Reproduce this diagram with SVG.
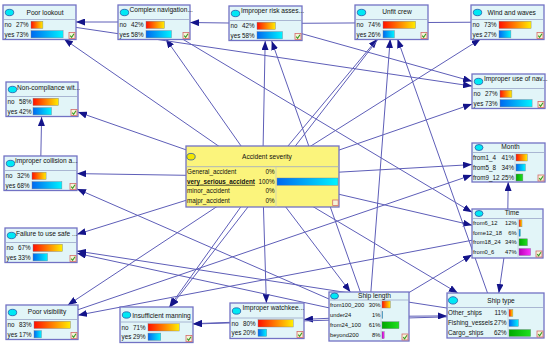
<svg xmlns="http://www.w3.org/2000/svg" width="550" height="347" viewBox="0 0 550 347">
<style>
.box{fill:#e2f5f8;stroke:#7272c4;stroke-width:1.3}
.asb{fill:#fbf47c;stroke:#7272c4;stroke-width:1.3}
.div{stroke:#9aa6c8;stroke-width:0.8}
.sep{stroke:#b8c4d4;stroke-width:0.6}
.dot{fill:#00e8f4;stroke:#2a58a8;stroke-width:0.8}
.doty{fill:#f2e600;stroke:#2a58a8;stroke-width:0.8}
text{font-family:"Liberation Sans",Arial,sans-serif;fill:#111}
.t{font-size:6.6px}
.r{font-size:6.3px}
.s{font-size:5.8px}
.p{text-anchor:end}
.m{text-anchor:middle}
.bar{stroke:#7a7a90;stroke-width:0.4}
.ry{fill:url(#gRY)}
.bc{fill:url(#gBC)}
.gr{fill:url(#gGR)}
.mg{fill:url(#gMG)}
.chk{fill:#f4f4d8;stroke:#d46a6a;stroke-width:0.8}
.tick{fill:none;stroke:#3a9a20;stroke-width:1.1}
.lk line{stroke:#5e5eb8;stroke-width:1;fill:none}
</style>
<defs>
<linearGradient id="gRY"><stop offset="0" stop-color="#ff1000"/><stop offset="1" stop-color="#ffee00"/></linearGradient>
<linearGradient id="gBC"><stop offset="0" stop-color="#0068f0"/><stop offset="1" stop-color="#00f4ff"/></linearGradient>
<linearGradient id="gGR"><stop offset="0" stop-color="#00a800"/><stop offset="1" stop-color="#20e020"/></linearGradient>
<linearGradient id="gMG"><stop offset="0" stop-color="#b800b8"/><stop offset="1" stop-color="#ff30ff"/></linearGradient>
<marker id="ah" markerUnits="userSpaceOnUse" markerWidth="9" markerHeight="7" refX="9" refY="3.5" orient="auto"><path d="M0,0 L9,3.5 L0,7 z" fill="#14148a"/></marker>
<g id="ck"><rect class="chk" x="0" y="0" width="6" height="6"/><path class="tick" d="M1.2,3.2 L2.6,4.8 L5,1.2"/></g>
</defs>

<g id="connectors" class="lk">
<line x1="265.5" y1="23.5" x2="507.5" y2="22"/>
<line x1="262.5" y1="176.5" x2="64" y2="39" marker-end="url(#ah)"/>
<line x1="262.5" y1="176.5" x2="165.9" y2="39" marker-end="url(#ah)"/>
<line x1="262.5" y1="176.5" x2="265.2" y2="41" marker-end="url(#ah)"/>
<line x1="262.5" y1="176.5" x2="377.3" y2="39" marker-end="url(#ah)"/>
<line x1="262.5" y1="176.5" x2="480.6" y2="39" marker-end="url(#ah)"/>
<line x1="262.5" y1="176.5" x2="472" y2="104.1" marker-end="url(#ah)"/>
<line x1="262.5" y1="176.5" x2="78" y2="112.1" marker-end="url(#ah)"/>
<line x1="262.5" y1="176.5" x2="77" y2="173.6" marker-end="url(#ah)"/>
<line x1="262.5" y1="176.5" x2="472" y2="164.6" marker-end="url(#ah)"/>
<line x1="262.5" y1="176.5" x2="472" y2="225.2" marker-end="url(#ah)"/>
<line x1="262.5" y1="176.5" x2="77" y2="234.3" marker-end="url(#ah)"/>
<line x1="262.5" y1="176.5" x2="67.8" y2="305" marker-end="url(#ah)"/>
<line x1="262.5" y1="176.5" x2="169.3" y2="307" marker-end="url(#ah)"/>
<line x1="262.5" y1="176.5" x2="266.4" y2="303" marker-end="url(#ah)"/>
<line x1="262.5" y1="176.5" x2="350.4" y2="292" marker-end="url(#ah)"/>
<line x1="262.5" y1="176.5" x2="457.8" y2="293" marker-end="url(#ah)"/>
<line x1="154" y1="22" x2="76" y2="22" marker-end="url(#ah)"/>
<line x1="265.5" y1="23.5" x2="190" y2="22.5" marker-end="url(#ah)"/>
<line x1="39.5" y1="22" x2="472" y2="86.1" marker-end="url(#ah)"/>
<line x1="265.5" y1="23.5" x2="472" y2="81.3" marker-end="url(#ah)"/>
<line x1="40.5" y1="173" x2="41.6" y2="117" marker-end="url(#ah)"/>
<line x1="507.5" y1="233.5" x2="508.2" y2="182" marker-end="url(#ah)"/>
<line x1="42" y1="322" x2="472" y2="175" marker-end="url(#ah)"/>
<line x1="154" y1="22" x2="472" y2="212.3" marker-end="url(#ah)"/>
<line x1="369" y1="316.5" x2="472" y2="254.8" marker-end="url(#ah)"/>
<line x1="507.5" y1="233.5" x2="78" y2="315.2" marker-end="url(#ah)"/>
<line x1="369" y1="316.5" x2="271.7" y2="41" marker-end="url(#ah)"/>
<line x1="369" y1="316.5" x2="390.2" y2="39" marker-end="url(#ah)"/>
<line x1="495.5" y1="315.5" x2="397.5" y2="39" marker-end="url(#ah)"/>
<line x1="391.5" y1="22" x2="170.4" y2="307" marker-end="url(#ah)"/>
<line x1="369" y1="316.5" x2="304" y2="319.4" marker-end="url(#ah)"/>
<line x1="267" y1="321" x2="193" y2="323.7" marker-end="url(#ah)"/>
<line x1="495.5" y1="315.5" x2="193" y2="324" marker-end="url(#ah)"/>
<line x1="369" y1="316.5" x2="447" y2="315.9" marker-end="url(#ah)"/>
<line x1="507.5" y1="233.5" x2="498.8" y2="293" marker-end="url(#ah)"/>
<line x1="369" y1="316.5" x2="77" y2="188.9" marker-end="url(#ah)"/>
<line x1="495.5" y1="315.5" x2="77" y2="251" marker-end="url(#ah)"/>
<line x1="369" y1="316.5" x2="77" y2="253.3" marker-end="url(#ah)"/>
</g>

<g id="poor-lookout" transform="translate(3,5)">
<rect class="box" width="73" height="34.5"/><line class="div" x1="0" y1="14.5" x2="73" y2="14.5"/>
<ellipse class="dot" cx="6.5" cy="7.5" rx="4.2" ry="3.2"/>
<text class="t m" x="42" y="9.8">Poor lookout</text>
<text class="r" x="1.5" y="22.3">no</text><text class="r p" x="25.5" y="22.3">27%</text><rect class="bar ry" x="28" y="16.2" width="11.9" height="7.3"/>
<text class="r" x="1.5" y="31.7">yes</text><text class="r p" x="25.5" y="31.7">73%</text><rect class="bar bc" x="28" y="25.6" width="32.1" height="7.3"/>
<use href="#ck" x="66" y="27.5"/>
</g>

<g id="complex-navigation" transform="translate(118,5)">
<rect class="box" width="72" height="34.5"/><line class="div" x1="0" y1="14.5" x2="72" y2="14.5"/>
<ellipse class="dot" cx="6.5" cy="7.5" rx="4.2" ry="3.2"/>
<text class="t" x="11.5" y="6.5">Complex navigation...</text>
<text class="r" x="1.5" y="22.3">no</text><text class="r p" x="25.5" y="22.3">42%</text><rect class="bar ry" x="28" y="16.2" width="18.5" height="7.3"/>
<text class="r" x="1.5" y="31.7">yes</text><text class="r p" x="25.5" y="31.7">58%</text><rect class="bar bc" x="28" y="25.6" width="25.5" height="7.3"/>
<use href="#ck" x="65" y="27.5"/>
</g>

<g id="improper-risk" transform="translate(229,6)">
<rect class="box" width="73" height="34.5"/><line class="div" x1="0" y1="14.5" x2="73" y2="14.5"/>
<ellipse class="dot" cx="6.5" cy="7.5" rx="4.2" ry="3.2"/>
<text class="t" x="12" y="7">Improper risk asses...</text>
<text class="r" x="1.5" y="22.3">no</text><text class="r p" x="25.5" y="22.3">42%</text><rect class="bar ry" x="28" y="16.2" width="18.5" height="7.3"/>
<text class="r" x="1.5" y="31.7">yes</text><text class="r p" x="25.5" y="31.7">58%</text><rect class="bar bc" x="28" y="25.6" width="25.5" height="7.3"/>
<use href="#ck" x="66" y="27.5"/>
</g>

<g id="unfit-crew" transform="translate(355,5)">
<rect class="box" width="73" height="34.5"/><line class="div" x1="0" y1="14.5" x2="73" y2="14.5"/>
<ellipse class="dot" cx="6.5" cy="7.5" rx="4.2" ry="3.2"/>
<text class="t m" x="42" y="9.2">Unfit crew</text>
<text class="r" x="1.5" y="22.3">no</text><text class="r p" x="25.5" y="22.3">74%</text><rect class="bar ry" x="28" y="16.2" width="32.6" height="7.3"/>
<text class="r" x="1.5" y="31.7">yes</text><text class="r p" x="25.5" y="31.7">26%</text><rect class="bar bc" x="28" y="25.6" width="11.4" height="7.3"/>
<use href="#ck" x="66" y="27.5"/>
</g>

<g id="wind-waves" transform="translate(471,5)">
<rect class="box" width="73" height="34.5"/><line class="div" x1="0" y1="14.5" x2="73" y2="14.5"/>
<ellipse class="dot" cx="6.5" cy="7.5" rx="4.2" ry="3.2"/>
<text class="t m" x="40.7" y="9.6">Wind and waves</text>
<text class="r" x="1.5" y="22.3">no</text><text class="r p" x="25.5" y="22.3">73%</text><rect class="bar ry" x="28" y="16.2" width="32.1" height="7.3"/>
<text class="r" x="1.5" y="31.7">yes</text><text class="r p" x="25.5" y="31.7">27%</text><rect class="bar bc" x="28" y="25.6" width="11.9" height="7.3"/>
<use href="#ck" x="66" y="27.5"/>
</g>

<g id="improper-use-nav" transform="translate(472,74)">
<rect class="box" width="73" height="34.5"/><line class="div" x1="0" y1="14.5" x2="73" y2="14.5"/>
<ellipse class="dot" cx="6.5" cy="7.5" rx="4.2" ry="3.2"/>
<text class="t" x="12" y="7.3">Improper use of nav...</text>
<text class="r" x="1.5" y="22.3">no</text><text class="r p" x="25.5" y="22.3">27%</text><rect class="bar ry" x="28" y="16.2" width="11.9" height="7.3"/>
<text class="r" x="1.5" y="31.7">yes</text><text class="r p" x="25.5" y="31.7">73%</text><rect class="bar bc" x="28" y="25.6" width="32.1" height="7.3"/>
<use href="#ck" x="66" y="27.5"/>
</g>

<g id="non-compliance" transform="translate(6,82)">
<rect class="box" width="72" height="34.5"/><line class="div" x1="0" y1="14.5" x2="72" y2="14.5"/>
<ellipse class="dot" cx="6.5" cy="7.5" rx="4.2" ry="3.2"/>
<text class="t" x="11" y="7.6">Non-compliance wit...</text>
<text class="r" x="1.5" y="22.3">no</text><text class="r p" x="25.5" y="22.3">58%</text><rect class="bar ry" x="27" y="16.2" width="25.5" height="7.3"/>
<text class="r" x="1.5" y="31.7">yes</text><text class="r p" x="25.5" y="31.7">42%</text><rect class="bar bc" x="27" y="25.6" width="18.5" height="7.3"/>
<use href="#ck" x="65" y="27.5"/>
</g>

<g id="improper-collision" transform="translate(4,156)">
<rect class="box" width="73" height="34.5"/><line class="div" x1="0" y1="14.5" x2="73" y2="14.5"/>
<ellipse class="dot" cx="6.5" cy="7.5" rx="4.2" ry="3.2"/>
<text class="t" x="11" y="7">Improper collision a...</text>
<text class="r" x="1.5" y="22.3">no</text><text class="r p" x="25.5" y="22.3">32%</text><rect class="bar ry" x="28" y="16.2" width="14.1" height="7.3"/>
<text class="r" x="1.5" y="31.7">yes</text><text class="r p" x="25.5" y="31.7">68%</text><rect class="bar bc" x="28" y="25.6" width="29.9" height="7.3"/>
<use href="#ck" x="66" y="27.5"/>
</g>

<g id="failure-safe" transform="translate(5,228)">
<rect class="box" width="72" height="34.5"/><line class="div" x1="0" y1="14.5" x2="72" y2="14.5"/>
<ellipse class="dot" cx="6.5" cy="7.5" rx="4.2" ry="3.2"/>
<text class="t" x="11" y="7.6">Failure to use safe ...</text>
<text class="r" x="1.5" y="22.3">no</text><text class="r p" x="25.5" y="22.3">67%</text><rect class="bar ry" x="28" y="16.2" width="29.5" height="7.3"/>
<text class="r" x="1.5" y="31.7">yes</text><text class="r p" x="25.5" y="31.7">33%</text><rect class="bar bc" x="28" y="25.6" width="14.5" height="7.3"/>
<use href="#ck" x="65" y="27.5"/>
</g>

<g id="poor-visibility" transform="translate(6,305)">
<rect class="box" width="72" height="34.5"/><line class="div" x1="0" y1="14.5" x2="72" y2="14.5"/>
<ellipse class="dot" cx="6.5" cy="7.5" rx="4.2" ry="3.2"/>
<text class="t m" x="41" y="9.3">Poor visibility</text>
<text class="r" x="1.5" y="22.3">no</text><text class="r p" x="25.5" y="22.3">83%</text><rect class="bar ry" x="28" y="16.2" width="36.5" height="7.3"/>
<text class="r" x="1.5" y="31.7">yes</text><text class="r p" x="25.5" y="31.7">17%</text><rect class="bar bc" x="28" y="25.6" width="7.5" height="7.3"/>
<use href="#ck" x="65" y="27.5"/>
</g>

<g id="insufficient-manning" transform="translate(120,307)">
<rect class="box" width="73" height="35.5"/><line class="div" x1="0" y1="15" x2="73" y2="15"/>
<ellipse class="dot" cx="6.5" cy="8" rx="4.2" ry="3.2"/>
<text class="t m" x="41.5" y="10.6">Insufficient manning</text>
<text class="r" x="1.5" y="22.8">no</text><text class="r p" x="25.5" y="22.8">71%</text><rect class="bar ry" x="28" y="16.7" width="31.2" height="7.3"/>
<text class="r" x="1.5" y="32.2">yes</text><text class="r p" x="25.5" y="32.2">29%</text><rect class="bar bc" x="28" y="26.1" width="12.8" height="7.3"/>
<use href="#ck" x="66" y="28.5"/>
</g>

<g id="improper-watchkeeping" transform="translate(230,303)">
<rect class="box" width="74" height="35.5"/><line class="div" x1="0" y1="15" x2="74" y2="15"/>
<ellipse class="dot" cx="6.5" cy="8" rx="4.2" ry="3.2"/>
<text class="t" x="12.5" y="6.8">Improper watchkee...</text>
<text class="r" x="1.5" y="22.8">no</text><text class="r p" x="25.5" y="22.8">80%</text><rect class="bar ry" x="28" y="16.7" width="35.2" height="7.3"/>
<text class="r" x="1.5" y="32.2">yes</text><text class="r p" x="25.5" y="32.2">20%</text><rect class="bar bc" x="28" y="26.1" width="8.8" height="7.3"/>
<use href="#ck" x="67" y="28.5"/>
</g>

<g id="accident-severity" transform="translate(186,146)">
<rect class="asb" width="153" height="61"/><line class="div" x1="0" y1="20.7" x2="153" y2="20.7"/>
<line class="sep" x1="90" y1="20.7" x2="90" y2="61"/>
<ellipse class="doty" cx="5" cy="10.7" rx="4.2" ry="3.3"/>
<text class="t m" x="81" y="13">Accident severity</text>
<text class="r" x="1" y="27.9">General_accident</text><text class="r p" x="88.5" y="27.9">0%</text>
<text class="r" x="1" y="37.9" font-weight="bold" text-decoration="underline">very_serious_accident</text><text class="r p" x="88.5" y="37.9">100%</text>
<rect class="bar bc" x="91" y="32" width="61" height="7.3"/>
<text class="r" x="1" y="47.2">minor_accident</text><text class="r p" x="88.5" y="47.2">0%</text>
<text class="r" x="1" y="56.9">majpr_accident</text><text class="r p" x="88.5" y="56.9">0%</text>
<rect class="chk" x="146.7" y="54" width="5.5" height="5.5"/>
</g>

<g id="month" transform="translate(472,143)">
<rect class="box" width="73" height="39"/><line class="div" x1="0" y1="9.5" x2="73" y2="9.5"/>
<line class="sep" x1="43" y1="9.5" x2="43" y2="39"/>
<ellipse class="dot" cx="7" cy="4.5" rx="4" ry="3"/>
<text class="t m" x="38.5" y="6.2">Month</text>
<text class="r" x="1" y="16.5">from1_4</text><text class="r p" x="42" y="16.5">41%</text><rect class="bar ry" x="44" y="11" width="11.3" height="7"/>
<text class="r" x="1" y="26.5">from5_8</text><text class="r p" x="42" y="26.5">34%</text><rect class="bar bc" x="44" y="21" width="9.4" height="7"/>
<text class="r" x="1" y="36.5">from9_12</text><text class="r p" x="42" y="36.5">25%</text><rect class="bar gr" x="44" y="31" width="6.9" height="7"/>
<use href="#ck" x="66" y="32"/>
</g>

<g id="time" transform="translate(472,209)">
<rect class="box" width="71" height="49"/><line class="div" x1="0" y1="9.5" x2="71" y2="9.5"/>
<line class="sep" x1="46" y1="9.5" x2="46" y2="49"/>
<ellipse class="dot" cx="7" cy="4.5" rx="4" ry="3"/>
<text class="t m" x="40" y="6.4">Time</text>
<text class="s" x="1" y="16.3">from6_12</text><text class="s p" x="44.7" y="16.3">12%</text><rect class="bar ry" x="47" y="10.8" width="3" height="7"/>
<text class="s" x="1" y="25.8">fome12_18</text><text class="s p" x="44.7" y="25.8">6%</text><rect class="bar bc" x="47" y="20.3" width="1.5" height="7"/>
<text class="s" x="1" y="35.3">from18_24</text><text class="s p" x="44.7" y="35.3">34%</text><rect class="bar gr" x="47" y="29.8" width="8.5" height="7"/>
<text class="s" x="1" y="45">from0_6</text><text class="s p" x="44.7" y="45">47%</text><rect class="bar mg" x="47" y="39.5" width="11.7" height="7"/>
<use href="#ck" x="64" y="42"/>
</g>

<g id="ship-length" transform="translate(329,292)">
<rect class="box" width="80" height="49"/><line class="div" x1="0" y1="8" x2="80" y2="8"/>
<line class="sep" x1="52" y1="8" x2="52" y2="49"/>
<ellipse class="dot" cx="5.5" cy="4" rx="4" ry="3"/>
<text class="t m" x="45.5" y="6.1">Ship length</text>
<text class="s" x="1" y="14.5">from100_200</text><text class="s p" x="51.3" y="14.5">30%</text><rect class="bar ry" x="53" y="9" width="8.4" height="7"/>
<text class="s" x="1" y="24.9">under24</text><text class="s p" x="51.3" y="24.9">1%</text><rect class="bar bc" x="53" y="19.4" width="0.8" height="7"/>
<text class="s" x="1" y="35.2">from24_100</text><text class="s p" x="51.3" y="35.2">61%</text><rect class="bar gr" x="53" y="29.7" width="17" height="7"/>
<text class="s" x="1" y="45.2">beyond200</text><text class="s p" x="51.3" y="45.2">8%</text><rect class="bar mg" x="53" y="39.7" width="2.2" height="7"/>
<use href="#ck" x="73" y="42"/>
</g>

<g id="ship-type" transform="translate(447,293)">
<rect class="box" width="97" height="45"/><line class="div" x1="0" y1="14.5" x2="97" y2="14.5"/>
<line class="sep" x1="61" y1="14.5" x2="61" y2="45"/>
<ellipse class="dot" cx="6" cy="7.4" rx="4.6" ry="3.7"/>
<text class="t m" x="54" y="9.7">Ship type</text>
<text class="r" x="1" y="22.2">Other_ships</text><text class="r p" x="59.7" y="22.2">11%</text><rect class="bar ry" x="62" y="16.5" width="3.9" height="7"/>
<text class="r" x="1" y="32.2">Fishing_vessels</text><text class="r p" x="59.7" y="32.2">27%</text><rect class="bar bc" x="62" y="26.5" width="9.5" height="7"/>
<text class="r" x="1" y="42.2">Cargo_ships</text><text class="r p" x="59.7" y="42.2">62%</text><rect class="bar gr" x="62" y="36.5" width="21.7" height="7"/>
<use href="#ck" x="90" y="38"/>
</g>
</svg>
